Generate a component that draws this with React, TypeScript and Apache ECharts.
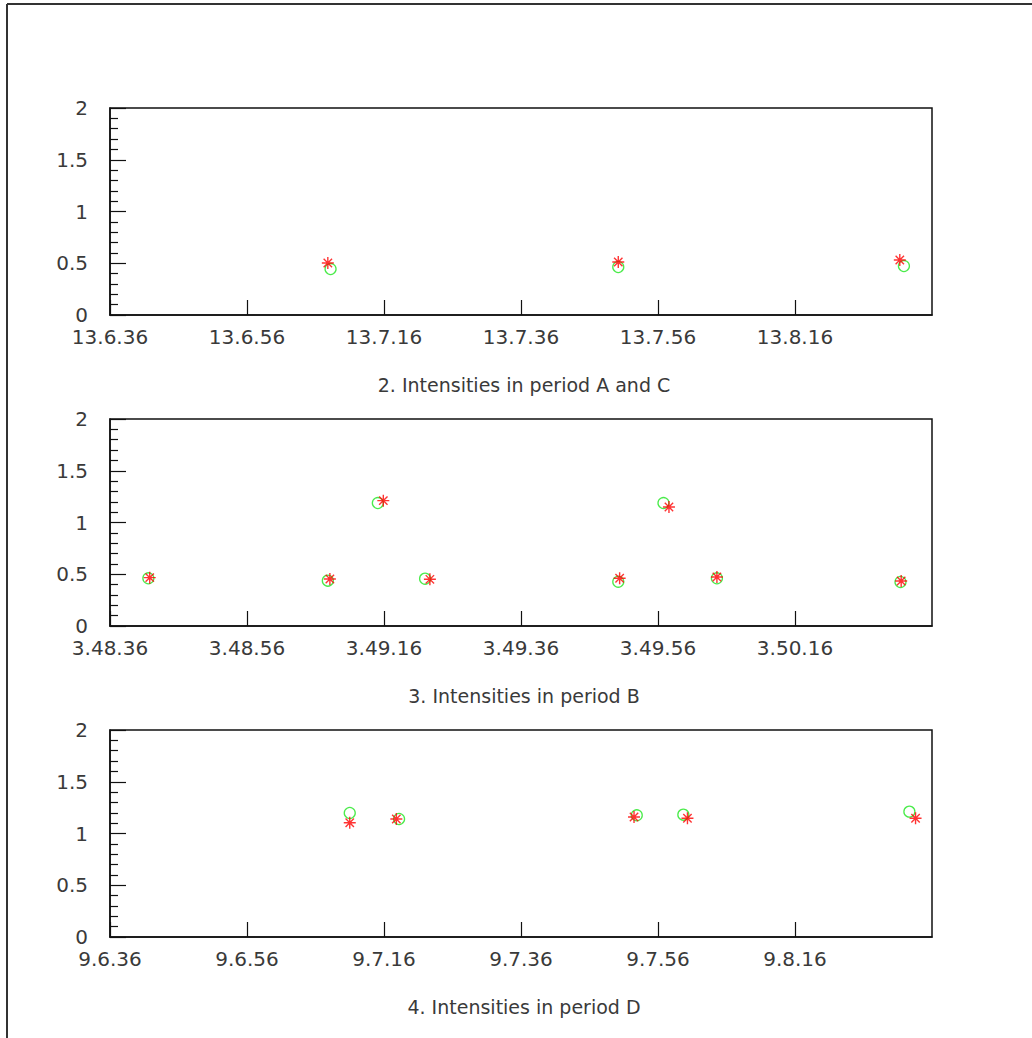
import React, { useEffect, useRef } from "react";
import * as echarts from "echarts";

// Axis start times (h, m, s) and seconds offsets for each panel
const startAC = [13, 6, 36];
const startB = [3, 48, 36];
const startD = [9, 6, 36];

const xTickStep = 20;
const xSpan = 120;
const yTicks = [0, 0.5, 1, 1.5, 2];

const titles = [
  "2. Intensities in period A and C",
  "3. Intensities in period B",
  "4. Intensities in period D",
];

// Panel: period A and C
const acRedT = [31.8, 74.2, 115.3];
const acRedV = [0.502, 0.512, 0.531];
const acGreenT = [32.2, 74.2, 115.9];
const acGreenV = [0.444, 0.464, 0.473];

// Panel: period B
const bRedT = [5.8, 32.1, 39.9, 46.7, 74.4, 81.6, 88.6, 115.5];
const bRedV = [0.467, 0.454, 1.211, 0.451, 0.461, 1.15, 0.473, 0.435];
const bGreenT = [5.6, 31.8, 39.1, 46.0, 74.2, 80.8, 88.6, 115.4];
const bGreenV = [0.461, 0.438, 1.188, 0.457, 0.428, 1.188, 0.461, 0.425];

// Panel: period D
const dRedT = [35.0, 41.8, 76.5, 84.3, 117.6];
const dRedV = [1.104, 1.14, 1.159, 1.147, 1.147];
const dGreenT = [35.0, 42.2, 76.9, 83.7, 116.7];
const dGreenV = [1.198, 1.14, 1.176, 1.182, 1.211];

const STAR =
  "path://M0,5 L10,5 M5,0 L5,10 M1.5,1.5 L8.5,8.5 M8.5,1.5 L1.5,8.5";

const FONT = "DejaVu Sans";
const TEXT_COLOR = "#3a3a3a";

function fmtTime(start: number[], offset: number): string {
  let total = start[0] * 3600 + start[1] * 60 + start[2] + Math.round(offset);
  const h = Math.floor(total / 3600);
  total -= h * 3600;
  const m = Math.floor(total / 60);
  const s = total - m * 60;
  return `${h}.${m}.${s}`;
}

function zip(t: number[], v: number[]) {
  return t.map((x, i) => [x, v[i]]);
}

export default function App() {
  const ref = useRef<HTMLDivElement>(null);

  useEffect(() => {
    if (!ref.current) return;
    const chart = echarts.init(ref.current, null, { renderer: "svg" });

    const starts = [startAC, startB, startD];
    const tops = [108, 419, 730];
    const plotH = 207;
    const panels = [
      { red: zip(acRedT, acRedV), green: zip(acGreenT, acGreenV) },
      { red: zip(bRedT, bRedV), green: zip(bGreenT, bGreenV) },
      { red: zip(dRedT, dRedV), green: zip(dGreenT, dGreenV) },
    ];

    const grid = tops.map((t) => ({
      left: 110,
      width: 822,
      top: t,
      height: plotH,
      show: true,
      borderColor: "#111",
      borderWidth: 1.5,
      backgroundColor: "transparent",
    }));

    const xAxis = starts.map((st, i) => ({
      type: "value",
      gridIndex: i,
      min: 0,
      max: xSpan,
      interval: xTickStep,
      axisLine: { show: true, onZero: false, lineStyle: { color: "#111", width: 1.5 } },
      axisTick: { show: true, inside: true, length: 15, lineStyle: { color: "#111", width: 1.2 } },
      splitLine: { show: false },
      axisLabel: {
        show: true,
        margin: 14,
        fontFamily: FONT,
        fontSize: 20,
        lineHeight: 16,
        color: TEXT_COLOR,
        showMaxLabel: false,
        formatter: (v: number) => (v >= xSpan ? "" : fmtTime(st, v)),
      },
    }));

    const yAxis = starts.map((_, i) => ({
      type: "value",
      gridIndex: i,
      min: yTicks[0],
      max: yTicks[yTicks.length - 1],
      interval: yTicks[1] - yTicks[0],
      axisLine: { show: true, lineStyle: { color: "#111", width: 1.5 } },
      axisTick: { show: true, inside: true, length: 16, lineStyle: { color: "#111", width: 1.2 } },
      minorTick: { show: true, splitNumber: 5, length: 8, lineStyle: { color: "#111", width: 1.2 } },
      splitLine: { show: false },
      minorSplitLine: { show: false },
      axisLabel: {
        show: true,
        margin: 22,
        fontFamily: FONT,
        fontSize: 20,
        lineHeight: 14,
        color: TEXT_COLOR,
        formatter: (v: number) => String(v),
      },
    }));

    const series: any[] = [];
    panels.forEach((p, i) => {
      series.push({
        type: "scatter",
        xAxisIndex: i,
        yAxisIndex: i,
        data: p.green,
        symbol: "circle",
        symbolSize: 11,
        itemStyle: { color: "rgba(0,0,0,0)", borderColor: "#1ee61e", borderWidth: 1.3 },
        z: 2,
      });
      series.push({
        type: "scatter",
        xAxisIndex: i,
        yAxisIndex: i,
        data: p.red,
        symbol: STAR,
        symbolSize: 12,
        itemStyle: { color: "rgba(0,0,0,0)", borderColor: "#ff0000", borderWidth: 1.4 },
        z: 3,
      });
    });

    const titleY = [385, 696, 1007];
    const graphic: any[] = [
      {
        type: "line",
        shape: { x1: 7, y1: 4, x2: 7, y2: 1038 },
        style: { stroke: "#333", lineWidth: 2 },
      },
      {
        type: "line",
        shape: { x1: 7, y1: 4, x2: 1032, y2: 4 },
        style: { stroke: "#333", lineWidth: 2 },
      },
      ...titles.map((t, i) => ({
        type: "text",
        x: 524,
        y: titleY[i],
        style: {
          text: t,
          fontFamily: FONT,
          fontSize: 19,
          fill: TEXT_COLOR,
          align: "center",
          verticalAlign: "middle",
        },
      })),
    ];

    chart.setOption({
      animation: false,
      backgroundColor: "#fff",
      grid,
      xAxis,
      yAxis,
      series,
      graphic,
    });

    return () => chart.dispose();
  }, []);

  return (
    <div
      ref={ref}
      style={{ position: "fixed", left: 0, top: 0, width: 1032, height: 1038 }}
    />
  );
}
